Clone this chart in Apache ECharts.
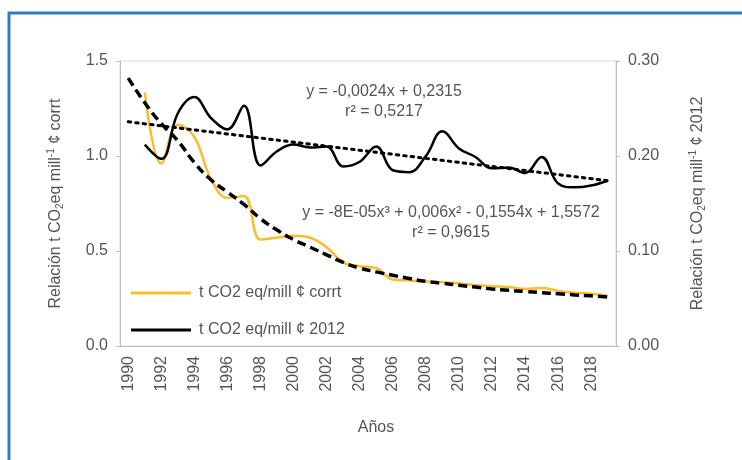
<!DOCTYPE html>
<html>
<head>
  <meta charset="UTF-8">
  <title>Relación t CO2eq mill-1</title>
  <script src="https://cdn.jsdelivr.net/npm/echarts@6/dist/echarts.min.js"></script>
</head>
<body style="margin: 0">
  <div id="main" style="width: 742px; height: 460px"></div>
  <script>
    // años (eje x)
    const years = ['1990', '1991', '1992', '1993', '1994', '1995', '1996', '1997', '1998', '1999',
      '2000', '2001', '2002', '2003', '2004', '2005', '2006', '2007', '2008', '2009',
      '2010', '2011', '2012', '2013', '2014', '2015', '2016', '2017', '2018', '2019'];

    // t CO2 eq/mill ¢ corrt (eje izquierdo)
    const corrt = [null, 1.335, 0.96, 1.165, 1.10, 0.88, 0.78, 0.79, 0.56, 0.57,
      0.58, 0.57, 0.52, 0.44, 0.42, 0.41, 0.35, 0.345, 0.34, 0.335,
      0.33, 0.32, 0.315, 0.31, 0.30, 0.305, 0.29, 0.28, 0.275, 0.265];

    // t CO2 eq/mill ¢ 2012 (eje derecho)
    const c2012 = [null, 0.212, 0.197, 0.245, 0.262, 0.24, 0.228, 0.253, 0.19, 0.205,
      0.212, 0.209, 0.21, 0.189, 0.194, 0.21, 0.185, 0.183, 0.2, 0.226,
      0.208, 0.199, 0.187, 0.188, 0.182, 0.199, 0.171, 0.167, 0.169, 0.174];

    // tendencia polinómica
    const polyTrend = [1.41, 1.28, 1.17, 1.08, 0.965, 0.875, 0.81, 0.745, 0.67, 0.61,
      0.56, 0.52, 0.48, 0.44, 0.41, 0.39, 0.372, 0.355, 0.34, 0.33,
      0.32, 0.31, 0.30, 0.293, 0.287, 0.281, 0.275, 0.269, 0.264, 0.258];

    // tendencia lineal (extremos)
    const linTrend = [['1990', 0.236], ['2019', 0.174]];

    const names = ['t CO2 eq/mill ¢ corrt', 't CO2 eq/mill ¢ 2012'];
    const eq1 = ['y = -0,0024x + 0,2315', 'r² = 0,5217'];
    const eq2 = ['y = -8E-05x³ + 0,006x² - 0,1554x + 1,5572', 'r² = 0,9615'];

    const font = 'Liberation Sans, Arial, sans-serif';
    const txt = '#555555';
    const axisCol = '#bfbfbf';

    const nameStyle = {
      fontFamily: font, fontSize: 16, color: txt, lineHeight: 19,
      rich: {
        sub: { fontFamily: font, fontSize: 10, color: txt, verticalAlign: 'bottom', lineHeight: 19 },
        sup: { fontFamily: font, fontSize: 10, color: txt, verticalAlign: 'top', lineHeight: 19 }
      }
    };

    const myChart = echarts.init(document.getElementById('main'));
    const option = {
      backgroundColor: '#fff',
      animation: false,
      grid: {
        left: 120, right: 126, top: 61, bottom: 114,
        show: true, borderColor: '#d9d9d9', borderWidth: 1,
        outerBoundsMode: 'none'
      },
      graphic: [
        { type: 'rect', shape: { x: 9, y: 13, width: 760, height: 470 },
          style: { fill: 'none', stroke: '#2b7cc1', lineWidth: 3 } },
        { type: 'text', x: 384, y: 92, style: { text: eq1[0], font: '16px ' + font, fill: txt, align: 'center', verticalAlign: 'middle' } },
        { type: 'text', x: 384, y: 112, style: { text: eq1[1], font: '16px ' + font, fill: txt, align: 'center', verticalAlign: 'middle' } },
        { type: 'text', x: 451, y: 213, style: { text: eq2[0], font: '16px ' + font, fill: txt, align: 'center', verticalAlign: 'middle' } },
        { type: 'text', x: 451, y: 233, style: { text: eq2[1], font: '16px ' + font, fill: txt, align: 'center', verticalAlign: 'middle' } }
      ],
      legend: {
        data: names,
        orient: 'vertical',
        left: 126, top: 280,
        icon: 'rect',
        itemWidth: 60, itemHeight: 3,
        itemGap: 21,
        textStyle: { fontFamily: font, fontSize: 16, color: txt, padding: [0, 0, 0, 3] }
      },
      xAxis: {
        type: 'category',
        data: years,
        boundaryGap: true,
        name: 'Años',
        nameLocation: 'middle',
        nameGap: 74,
        nameTextStyle: { fontFamily: font, fontSize: 16, color: txt, padding: [0, 0, 0, 16] },
        axisLine: { lineStyle: { color: axisCol } },
        axisTick: { interval: 0, length: 5, lineStyle: { color: axisCol } },
        axisLabel: { interval: 1, rotate: 90, fontFamily: font, fontSize: 16, color: txt, margin: 10 },
        splitLine: { show: false }
      },
      yAxis: [
        {
          type: 'value', min: 0, max: 1.5, interval: 0.5,
          name: 'Relación t CO{sub|2}eq mill{sup|-1} ¢ corrt',
          nameLocation: 'middle', nameRotate: 90, nameGap: 55,
          nameTextStyle: nameStyle,
          axisLine: { show: true, lineStyle: { color: axisCol } },
          axisTick: { show: true, length: 4, lineStyle: { color: axisCol } },
          axisLabel: { fontFamily: font, fontSize: 16, color: txt, margin: 12,
            formatter: v => v.toFixed(1) },
          splitLine: { show: false }
        },
        {
          type: 'value', min: 0, max: 0.3, interval: 0.1,
          name: 'Relación t CO{sub|2}eq mill{sup|-1} ¢ 2012',
          nameLocation: 'middle', nameRotate: 90, nameGap: 72,
          nameTextStyle: nameStyle,
          axisLine: { show: true, lineStyle: { color: axisCol } },
          axisTick: { show: true, length: 4, lineStyle: { color: axisCol } },
          axisLabel: { fontFamily: font, fontSize: 16, color: txt, margin: 12,
            formatter: v => v.toFixed(2) },
          splitLine: { show: false }
        }
      ],
      series: [
        {
          name: names[0], type: 'line', data: corrt, yAxisIndex: 0,
          smooth: 0.4, symbol: 'none', color: '#fbbd2e',
          lineStyle: { width: 2.5, color: '#fbbd2e' }, z: 2
        },
        {
          name: names[1], type: 'line', data: c2012, yAxisIndex: 1,
          smooth: 0.4, symbol: 'none', color: '#000',
          lineStyle: { width: 2.5, color: '#000' }, z: 2
        },
        {
          name: 'poly', type: 'line', data: polyTrend, yAxisIndex: 0,
          smooth: 0.5, symbol: 'none',
          lineStyle: { width: 3.5, color: '#000', type: [9, 5] }, z: 3
        },
        {
          name: 'lin', type: 'line', data: linTrend, yAxisIndex: 1,
          symbol: 'none',
          lineStyle: { width: 3, color: '#000', type: [2.5, 5], cap: 'round' }, z: 3
        }
      ]
    };
    myChart.setOption(option);
  </script>
</body>
</html>
